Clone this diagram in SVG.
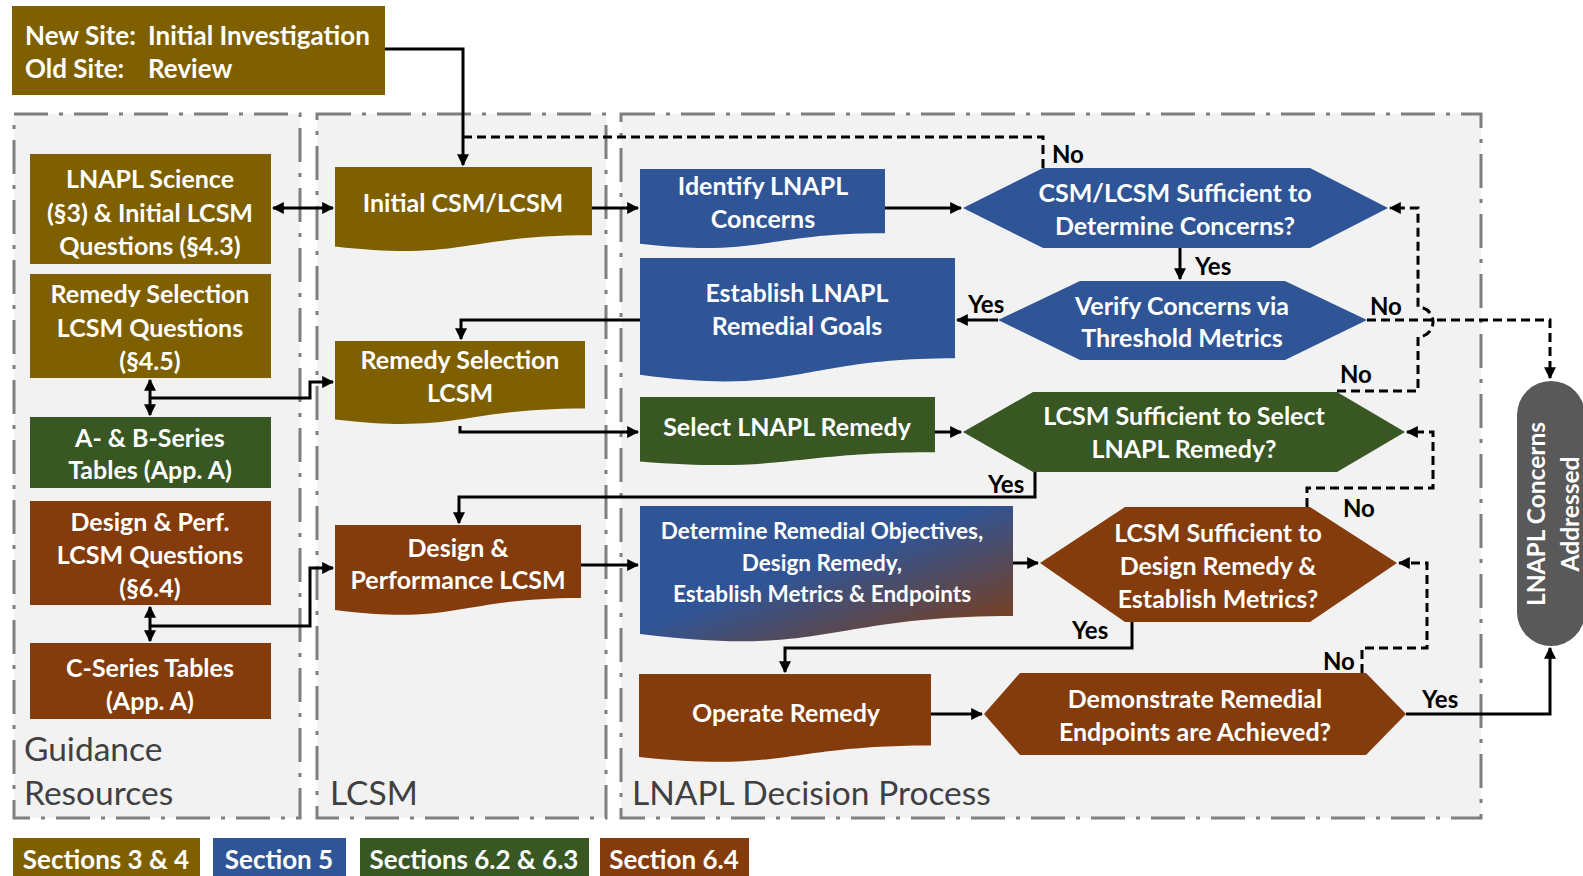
<svg xmlns="http://www.w3.org/2000/svg" width="1583" height="876" viewBox="0 0 1583 876">
<defs>
<style>
.panel{fill:#F2F2F2;stroke:#7F7F7F;stroke-width:3;stroke-dasharray:34 11 4 11}
.olive{fill:#7F6000}
.blue{fill:#2F5597}
.green{fill:#385723}
.brown{fill:#843C0C}
.t{font-family:Lato,"Liberation Sans",sans-serif;font-weight:bold;fill:#fff;font-size:25px;text-anchor:middle;dominant-baseline:central}
.tl{font-family:Lato,"Liberation Sans",sans-serif;font-weight:bold;fill:#fff;font-size:26px;dominant-baseline:central}
.lab{font-family:Lato,"Liberation Sans",sans-serif;font-weight:bold;fill:#000;font-size:24px;dominant-baseline:central}
.plab{font-family:Lato,"Liberation Sans",sans-serif;fill:#404040;font-size:33.5px;dominant-baseline:central}
.c{fill:none;stroke:#000;stroke-width:3}
.d{fill:none;stroke:#000;stroke-width:3;stroke-dasharray:9 5}
</style>
<marker id="ah" viewBox="0 0 10 10" refX="9" refY="5" markerWidth="4" markerHeight="4" orient="auto-start-reverse" markerUnits="strokeWidth">
<path d="M0,0 L10,5 L0,10 Z" fill="#000"/>
</marker>
<linearGradient id="grad" x1="0" y1="0" x2="1" y2="1">
<stop offset="0" stop-color="#2F5597"/>
<stop offset="0.45" stop-color="#2F5597"/>
<stop offset="1" stop-color="#843C0C"/>
</linearGradient>
</defs>

<g id="panels">
<rect class="panel" x="14" y="114" width="286" height="704"/>
<rect class="panel" x="317" y="114" width="289" height="704"/>
<rect class="panel" x="621" y="114" width="860" height="704"/>
<text class="plab" x="24" y="748">Guidance</text>
<text class="plab" x="24" y="792">Resources</text>
<text class="plab" x="330" y="792">LCSM</text>
<text class="plab" x="632" y="792">LNAPL Decision Process</text>
</g>

<g id="start">
<rect class="olive" x="12" y="6" width="373" height="89"/>
<text class="tl" x="25" y="35">New Site:</text>
<text class="tl" x="148" y="35">Initial Investigation</text>
<text class="tl" x="25" y="68">Old Site:</text>
<text class="tl" x="148" y="68">Review</text>
</g>

<g id="g-science">
<rect class="olive" x="30" y="154" width="241" height="110"/>
<text class="t" x="150" y="178">LNAPL Science</text>
<text class="t" x="150" y="212">(§3) &amp; Initial LCSM</text>
<text class="t" x="150" y="245">Questions (§4.3)</text>
</g>
<g id="g-remsel">
<rect class="olive" x="30" y="274" width="241" height="104"/>
<text class="t" x="150" y="293">Remedy Selection</text>
<text class="t" x="150" y="327">LCSM Questions</text>
<text class="t" x="150" y="360">(§4.5)</text>
</g>
<g id="g-ab">
<rect class="green" x="30" y="417" width="241" height="71"/>
<text class="t" x="150" y="437">A- &amp; B-Series</text>
<text class="t" x="150" y="469">Tables (App. A)</text>
</g>
<g id="g-design">
<rect class="brown" x="30" y="501" width="241" height="104"/>
<text class="t" x="150" y="521">Design &amp; Perf.</text>
<text class="t" x="150" y="554">LCSM Questions</text>
<text class="t" x="150" y="587">(§6.4)</text>
</g>
<g id="g-c">
<rect class="brown" x="30" y="643" width="241" height="76"/>
<text class="t" x="150" y="667">C-Series Tables</text>
<text class="t" x="150" y="700">(App. A)</text>
</g>

<g id="l-initial">
<path class="olive" d="M335,167 H592 V235.2 C463.5,235.2 463.5,261.1 335,246.4 Z"/>
<text class="t" x="463" y="202">Initial CSM/LCSM</text>
</g>
<g id="l-remsel">
<path class="olive" d="M335,341 H585 V408.4 C460,408.4 460,434 335,419.5 Z"/>
<text class="t" x="460" y="359">Remedy Selection</text>
<text class="t" x="460" y="392">LCSM</text>
</g>
<g id="l-design">
<path class="brown" d="M335,525 H581 V598 C458,598 458,625.8 335,610 Z"/>
<text class="t" x="458" y="547">Design &amp;</text>
<text class="t" x="458" y="579">Performance LCSM</text>
</g>

<g id="d-identify">
<path class="blue" d="M640,169 H885 V233.2 C762.5,233.2 762.5,257.6 640,243.7 Z"/>
<text class="t" x="763" y="185">Identify LNAPL</text>
<text class="t" x="763" y="218">Concerns</text>
</g>
<g id="d-establish">
<path class="blue" d="M640,258 H955 V358.3 C797.5,358.3 797.5,396.4 640,374.8 Z"/>
<text class="t" x="797" y="292">Establish LNAPL</text>
<text class="t" x="797" y="325">Remedial Goals</text>
</g>
<g id="d-select">
<path class="green" d="M640,397 H935 V452.3 C787.5,452.3 787.5,473.4 640,461.4 Z"/>
<text class="t" x="787" y="426">Select LNAPL Remedy</text>
</g>
<g id="d-determine">
<path fill="url(#grad)" d="M640,506 H1013 V615.9 C826.5,615.9 826.5,657.7 640,634 Z"/>
<text class="t" style="font-size:22.5px" x="822" y="530">Determine Remedial Objectives,</text>
<text class="t" style="font-size:22.5px" x="822" y="562">Design Remedy,</text>
<text class="t" style="font-size:22.5px" x="822" y="593">Establish Metrics &amp; Endpoints</text>
</g>
<g id="d-operate">
<path class="brown" d="M639,674 H931 V745.4 C785,745.4 785,772.6 639,757.1 Z"/>
<text class="t" x="786" y="712">Operate Remedy</text>
</g>

<g id="q1">
<polygon class="blue" points="963,208 1043,168 1310,168 1388,208 1310,248 1043,248"/>
<text class="t" x="1175" y="192">CSM/LCSM Sufficient to</text>
<text class="t" x="1175" y="225">Determine Concerns?</text>
</g>
<g id="q2">
<polygon class="blue" points="998,320 1080,281 1285,281 1367,320 1285,360 1080,360"/>
<text class="t" x="1182" y="305">Verify Concerns via</text>
<text class="t" x="1182" y="337">Threshold Metrics</text>
</g>
<g id="q3">
<polygon class="green" points="963,432 1033,392 1337,392 1405,432 1337,472 1033,472"/>
<text class="t" x="1184" y="415">LCSM Sufficient to Select</text>
<text class="t" x="1184" y="448">LNAPL Remedy?</text>
</g>
<g id="q4">
<polygon class="brown" points="1040,563 1125,507 1310,507 1397,563 1310,622 1125,622"/>
<text class="t" x="1218" y="532">LCSM Sufficient to</text>
<text class="t" x="1218" y="565">Design Remedy &amp;</text>
<text class="t" x="1218" y="598">Establish Metrics?</text>
</g>
<g id="q5">
<polygon class="brown" points="984,714 1020,673 1366,673 1406,714 1366,755 1020,755"/>
<text class="t" x="1195" y="698">Demonstrate Remedial</text>
<text class="t" x="1195" y="731">Endpoints are Achieved?</text>
</g>

<g id="end">
<rect x="1517" y="381" width="68" height="265" rx="34" fill="#595959"/>
<text class="t" style="font-size:24.5px" transform="rotate(-90 1535 514)" x="1535" y="514">LNAPL Concerns</text>
<text class="t" style="font-size:24.5px" transform="rotate(-90 1569 514)" x="1569" y="514">Addressed</text>
</g>

<g id="legend">
<rect class="olive" x="13" y="838" width="187" height="38"/>
<text class="t" style="font-size:26px" x="106" y="859">Sections 3 &amp; 4</text>
<rect class="blue" x="213" y="838" width="133" height="38"/>
<text class="t" style="font-size:26px" x="279" y="859">Section 5</text>
<rect class="green" x="360" y="838" width="229" height="38"/>
<text class="t" style="font-size:26px" x="474" y="859">Sections 6.2 &amp; 6.3</text>
<rect class="brown" x="600" y="838" width="149" height="38"/>
<text class="t" style="font-size:26px" x="674" y="859">Section 6.4</text>
</g>

<g id="connectors">
<path class="c" marker-end="url(#ah)" d="M385,49 H463 V165"/>
<path class="c" marker-start="url(#ah)" marker-end="url(#ah)" d="M273,208 H333"/>
<path class="c" marker-end="url(#ah)" d="M592,208 H638"/>
<path class="c" marker-end="url(#ah)" d="M885,208 H961"/>
<path class="c" marker-end="url(#ah)" d="M1180,248 V279"/>
<path class="c" marker-end="url(#ah)" d="M998,320 H957"/>
<path class="c" marker-end="url(#ah)" d="M640,320 H461 V339"/>
<path class="c" marker-end="url(#ah)" d="M460,426 V432 H638"/>
<path class="c" marker-end="url(#ah)" d="M935,432 H961"/>
<path class="c" marker-end="url(#ah)" d="M1035,472 V497 H459 V523"/>
<path class="c" marker-start="url(#ah)" marker-end="url(#ah)" d="M150,380 V415"/>
<path class="c" marker-end="url(#ah)" d="M150,398 H310 V382 H333"/>
<path class="c" marker-start="url(#ah)" marker-end="url(#ah)" d="M150,607 V641"/>
<path class="c" marker-end="url(#ah)" d="M150,626 H310 V568 H333"/>
<path class="c" marker-end="url(#ah)" d="M581,565 H638"/>
<path class="c" marker-end="url(#ah)" d="M1013,563 H1038"/>
<path class="c" marker-end="url(#ah)" d="M1132,622 V648 H785 V672"/>
<path class="c" marker-end="url(#ah)" d="M931,714 H982"/>
<path class="c" marker-end="url(#ah)" d="M1406,714 H1550 V648"/>
<path class="d" d="M1043,168 V137 H463"/>
<path class="d" marker-end="url(#ah)" d="M1367,320 H1550 V378"/>
<path class="d" marker-end="url(#ah)" d="M1337,391 H1418 V337 A15,15 0 0 0 1418,307 V208 H1390"/>
<path class="d" marker-end="url(#ah)" d="M1307,507 V488 H1433 V432 H1407"/>
<path class="d" marker-end="url(#ah)" d="M1362,673 V648 H1427 V563 H1399"/>
<text class="lab" x="1052" y="153">No</text>
<text class="lab" x="1195" y="265">Yes</text>
<text class="lab" x="968" y="303">Yes</text>
<text class="lab" x="1370" y="305">No</text>
<text class="lab" x="1340" y="373">No</text>
<text class="lab" x="988" y="483">Yes</text>
<text class="lab" x="1343" y="507">No</text>
<text class="lab" x="1072" y="629">Yes</text>
<text class="lab" x="1323" y="660">No</text>
<text class="lab" x="1422" y="698">Yes</text>
</g>
</svg>
